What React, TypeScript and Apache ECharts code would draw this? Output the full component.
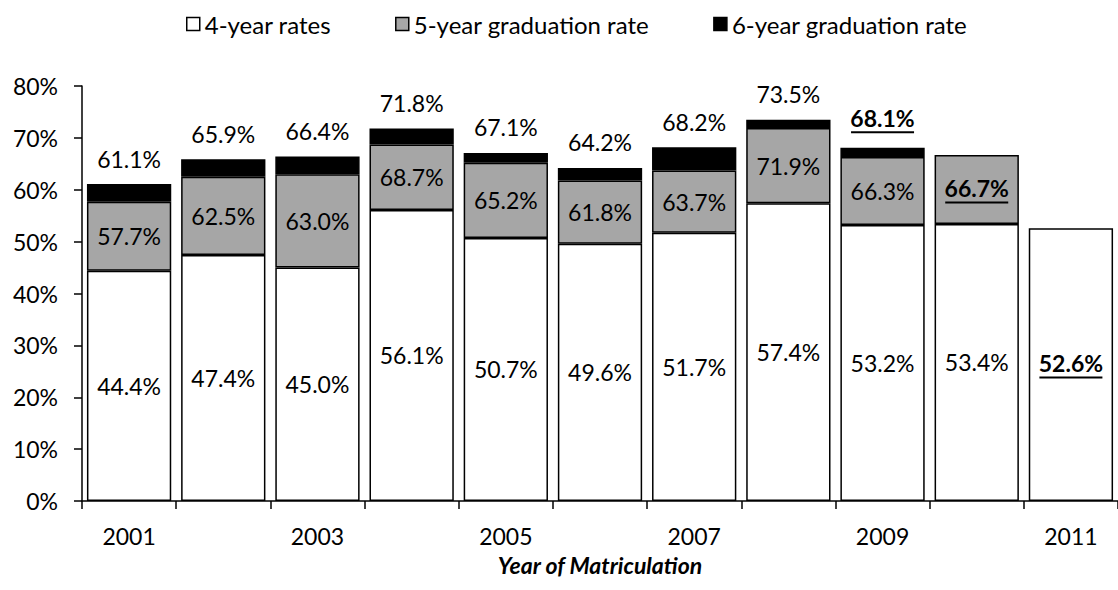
import React, { useEffect, useRef } from "react";
import * as echarts from "echarts";

const years = ["2001", "2002", "2003", "2004", "2005", "2006", "2007", "2008", "2009", "2010", "2011"];
const fourYear: (number | null)[] = [44.4, 47.4, 45.0, 56.1, 50.7, 49.6, 51.7, 57.4, 53.2, 53.4, 52.6];
const fiveYear: (number | null)[] = [57.7, 62.5, 63.0, 68.7, 65.2, 61.8, 63.7, 71.9, 66.3, 66.7, null];
const sixYear: (number | null)[] = [61.1, 65.9, 66.4, 71.8, 67.1, 64.2, 68.2, 73.5, 68.1, null, null];
const seriesNames = ["4-year rates", "5-year graduation rate", "6-year graduation rate"];

const FONT = "Lato";

function lastIndex(arr: (number | null)[]) {
  let k = -1;
  arr.forEach((v, i) => {
    if (v != null) k = i;
  });
  return k;
}

function diff(a: (number | null)[], b: (number | null)[]) {
  return a.map((v, i) => (v == null || b[i] == null ? null : +(v - (b[i] as number)).toFixed(2)));
}

function makeLabel(cum: (number | null)[], position: string, distance?: number) {
  const last = lastIndex(cum);
  return {
    show: true,
    position,
    distance,
    fontFamily: FONT,
    fontSize: 23,
    color: "#000",
    formatter: (p: any) => {
      const v = cum[p.dataIndex];
      if (v == null) return "";
      const s = v.toFixed(1) + "%";
      return p.dataIndex === last ? `{b|${s}}\n{u| }` : s;
    },
    rich: {
      b: { fontFamily: FONT, fontSize: 23, fontWeight: "bold", color: "#000", lineHeight: 26 },
      u: { width: 63, height: 2, backgroundColor: "#000", lineHeight: 3, fontSize: 1 },
    },
  };
}

export default function App() {
  const ref = useRef<HTMLDivElement>(null);
  useEffect(() => {
    if (!ref.current) return;
    const chart = echarts.init(ref.current, undefined, { renderer: "svg" });
    const inc5 = diff(fiveYear, fourYear);
    const inc6 = diff(sixYear, fiveYear);
    chart.setOption({
      animation: false,
      backgroundColor: "#fff",
      textStyle: { fontFamily: FONT, color: "#000" },
      legend: {
        top: 7,
        left: 181,
        itemWidth: 13,
        itemHeight: 13,
        itemGap: 64,
        icon: "rect",
        textStyle: { fontFamily: FONT, fontSize: 24, color: "#000" },
        data: [
          { name: seriesNames[0], itemStyle: { color: "#fff", borderColor: "#000", borderWidth: 1.5 } },
          { name: seriesNames[1], itemStyle: { color: "#a6a6a6", borderColor: "#000", borderWidth: 1.5 } },
          { name: seriesNames[2], itemStyle: { color: "#000", borderColor: "#000", borderWidth: 1.5 } },
        ],
      },
      grid: { left: 82, top: 86, width: 1045, height: 415, containLabel: false },
      xAxis: {
        type: "category",
        data: years,
        name: "Year of Matriculation",
        nameLocation: "middle",
        nameGap: 52,
        nameTextStyle: { fontFamily: FONT, fontSize: 23, fontWeight: "bold", fontStyle: "italic", color: "#000" },
        axisLine: { lineStyle: { color: "#000", width: 1.5 } },
        axisTick: { show: true, interval: 0, length: 8, lineStyle: { color: "#000", width: 1.5 } },
        axisLabel: { interval: 1, margin: 23, fontFamily: FONT, fontSize: 23, color: "#000" },
      },
      yAxis: {
        type: "value",
        min: 0,
        max: 80,
        interval: 10,
        axisLine: { show: true, lineStyle: { color: "#000", width: 1.5 } },
        axisTick: { show: true, length: 8, lineStyle: { color: "#000", width: 1.5 } },
        splitLine: { show: false },
        axisLabel: { formatter: "{value}%", margin: 24, fontFamily: FONT, fontSize: 23, color: "#000" },
      },
      series: [
        {
          name: seriesNames[0],
          type: "bar",
          stack: "g",
          barCategoryGap: "10.5%",
          data: fourYear,
          itemStyle: { color: "#fff", borderColor: "#000", borderWidth: 1.5 },
          label: makeLabel(fourYear, "inside"),
        },
        {
          name: seriesNames[1],
          type: "bar",
          stack: "g",
          data: inc5,
          itemStyle: { color: "#a6a6a6", borderColor: "#000", borderWidth: 1.5 },
          label: makeLabel(fiveYear, "inside"),
        },
        {
          name: seriesNames[2],
          type: "bar",
          stack: "g",
          data: inc6,
          itemStyle: { color: "#000", borderColor: "#000", borderWidth: 1.5 },
          label: makeLabel(sixYear, "top", 14),
        },
      ],
    });
    return () => chart.dispose();
  }, []);
  return (
    <div
      ref={ref}
      style={{ position: "absolute", left: 0, top: 0, width: 1118, height: 590, overflow: "hidden" }}
    />
  );
}
